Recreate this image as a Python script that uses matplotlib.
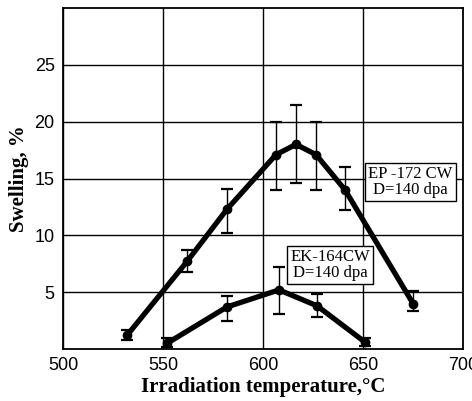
import matplotlib
matplotlib.use("Agg")
import matplotlib.pyplot as plt

# EP-172 CW, D=140 dpa
ep_temp = [532, 562, 582, 606.5, 616.5, 626.5, 641, 675]
ep_swell = [1.2, 7.7, 12.3, 17.1, 18.0, 17.1, 14.0, 4.0]
ep_lo = [0.8, 6.8, 10.2, 14.0, 14.6, 14.0, 12.2, 3.3]
ep_hi = [1.7, 8.7, 14.1, 20.0, 21.5, 20.0, 16.0, 5.1]

# EK-164 CW, D=140 dpa
ek_temp = [552, 582, 608, 627, 651]
ek_swell = [0.5, 3.7, 5.2, 3.8, 0.6]
ek_lo = [0.2, 2.5, 3.1, 2.8, 0.3]
ek_hi = [1.0, 4.7, 7.2, 4.8, 1.0]

x_ticks = [500, 550, 600, 650, 700]
y_ticks = [5, 10, 15, 20, 25]

fig = plt.figure(figsize=(4.72, 4.01), dpi=100)
ax = fig.add_axes([0.1335, 0.1297, 0.981 - 0.1335, 0.980 - 0.1297])

for t, s, lo, hi in [(ep_temp, ep_swell, ep_lo, ep_hi),
                     (ek_temp, ek_swell, ek_lo, ek_hi)]:
    yerr = [[v - l for v, l in zip(s, lo)], [h - v for v, h in zip(s, hi)]]
    ax.errorbar(t, s, yerr=yerr, fmt="none", ecolor="black",
                elinewidth=1.0, capsize=4, capthick=1.6, zorder=3)
    ax.plot(t, s, color="black", lw=3.8, marker="o", ms=6,
            solid_joinstyle="round", solid_capstyle="round", zorder=4)

ax.set_xlim(500, 700)
ax.set_ylim(0, 30)
ax.set_xticks(x_ticks)
ax.set_yticks(y_ticks)
ax.grid(True, color="black", lw=1.0)
ax.set_axisbelow(True)
ax.tick_params(length=0, pad=6)
for lab in ax.get_xticklabels() + ax.get_yticklabels():
    lab.set_fontfamily("Liberation Sans")
    lab.set_fontsize(13)
for sp in ax.spines.values():
    sp.set_linewidth(1.3)

ax.set_xlabel("Irradiation temperature,°C", family="Liberation Serif",
              fontweight="bold", fontsize=15, labelpad=2)
ax.set_ylabel("Swelling, %", family="Liberation Serif",
              fontweight="bold", fontsize=15, labelpad=4)

box = dict(boxstyle="square,pad=0.2", facecolor="white", edgecolor="black", lw=1.0)
ax.text(673.5, 14.7, "EP -172 CW\nD=140 dpa", family="Liberation Serif",
        fontsize=12, ha="center", va="center", linespacing=1.0, bbox=box, zorder=5)
ax.text(633.5, 7.4, "EK-164CW\nD=140 dpa", family="Liberation Serif",
        fontsize=12, ha="center", va="center", linespacing=1.0, bbox=box, zorder=5)

fig.savefig("out.png", dpi=100)
